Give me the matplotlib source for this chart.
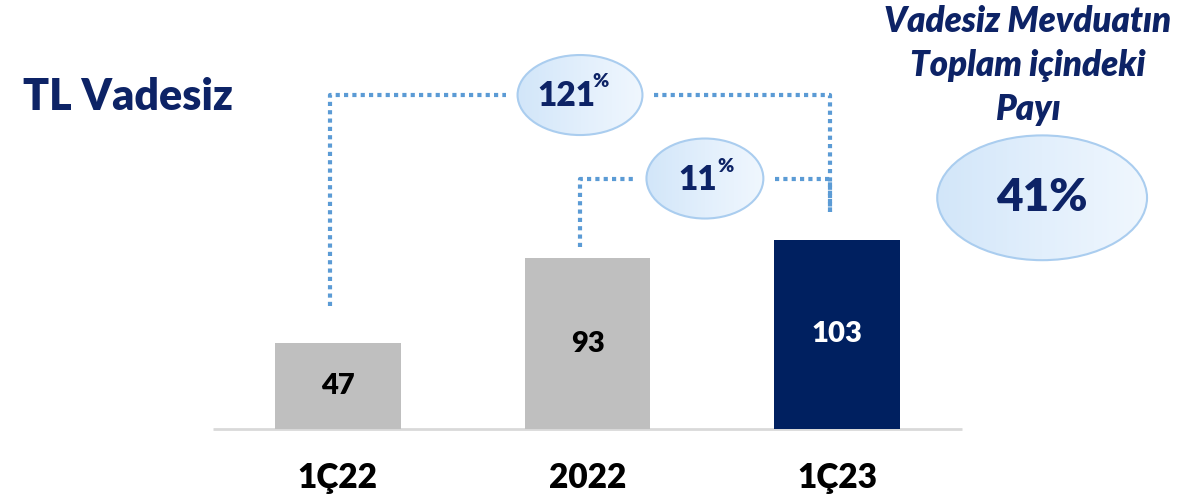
import numpy as np
import matplotlib.pyplot as plt
from matplotlib.patches import Ellipse
from matplotlib.colors import LinearSegmentedColormap

categories = ["1Ç22", "2022", "1Ç23"]
values = [47, 93, 103]
bar_colors = ["#bfbfbf", "#bfbfbf", "#002060"]
value_colors = ["#000000", "#000000", "#ffffff"]

# growth bubbles: (from bar, to bar, label)
growth = [(0, 2, "121"), (1, 2, "11")]
share_label = "41%"
side_title = ["Vadesiz Mevduatın", "Toplam içindeki", "Payı"]

NAVY = "#0d2366"
DOT = "#5b9bd5"

plt.rcParams['font.family'] = ['Lato', 'DejaVu Sans']

W, H = 1193, 501
PX_X, PX_Y = 250, 1.835   # pixels per unit
fig = plt.figure(figsize=(W / 100, H / 100), dpi=100)
ax = fig.add_axes([0, 0, 1, 1])

x = np.arange(len(values))
ax.bar(x, values, width=0.504, color=bar_colors, zorder=2)
ax.plot([-0.5, 2.5], [0, 0], color="#d9d9d9", lw=2, zorder=1, solid_capstyle="butt")

for i, v in enumerate(values):
    ax.text(i, v / 2, str(v), ha="center", va="center", fontsize=21,
            fontweight="heavy", color=value_colors[i], zorder=3)
    ax.annotate(categories[i], xy=(i, 0), xytext=(0, -35), textcoords="offset points",
                ha="center", va="center", fontsize=24, fontweight="heavy", color="black")

bubble_cmap = LinearSegmentedColormap.from_list("bubble", ["#d2e6f9", "#e2effc", "#f0f7fe"])
grad = np.linspace(0, 1, 256).reshape(1, -1)


def bubble(cx, cy, w, h):
    e = Ellipse((cx, cy), w, h, facecolor="none", edgecolor="#aacdef", lw=1.5, zorder=5)
    ax.add_patch(e)
    im = ax.imshow(grad, cmap=bubble_cmap, extent=[cx - w / 2, cx + w / 2, cy - h / 2, cy + h / 2],
                   aspect="auto", zorder=4, interpolation="bilinear")
    im.set_clip_path(e)


# dotted connectors with the growth bubble in the middle
levels = [182, 136.5]
gaps = [(20, 15), (6, 15)]
bubble_w = [0.5, 0.468]
pct_off = [(-10, -1, 19, 11), (-5, -1, 14, 10)]
dot_kw = dict(color=DOT, lw=3, linestyle=(0, (1, 1)), dash_capstyle="butt", zorder=3)
for k, (i, j, lab) in enumerate(growth):
    xi, xj = i - 0.03, j - 0.03
    y = levels[k]
    cx = (xi + xj) / 2
    half = bubble_w[k] / 2 + 0.045
    ax.plot([xi, xi, cx - half], [values[i] + gaps[k][0], y, y], **dot_kw)
    ax.plot([cx + half, xj, xj], [y, y, values[j] + gaps[k][1]], **dot_kw)
    bubble(cx, y, bubble_w[k], 43.6)
    ox, oy, px, py = pct_off[k]
    ax.annotate(lab, xy=(cx, y), xytext=(ox, oy), textcoords="offset points",
                ha="center", va="center", fontsize=24, fontweight="heavy",
                color=NAVY, zorder=6)
    ax.annotate("%", xy=(cx, y), xytext=(ox + px, oy + py), textcoords="offset points",
                ha="left", va="center", fontsize=14, fontweight="heavy",
                color=NAVY, zorder=6)

# share bubble on the right
bubble(2.82, 126, 0.84, 68)
ax.text(2.82, 126, share_label, ha="center", va="center", fontsize=33,
        fontweight="heavy", color=NAVY, zorder=6)

ax.set_xlim(-0.5 - 213 / PX_X, 2.5 + (W - 962) / PX_X)
ax.set_ylim(-72 / PX_Y, 429 / PX_Y)
ax.axis("off")

fig.text(23 / W, 1 - 97 / H, "TL Vadesiz", ha="left", va="center", fontsize=31,
         fontweight="heavy", color=NAVY)
for n, line in enumerate(side_title):
    fig.text(1028 / W, 1 - (21 + 44 * n) / H, line, ha="center", va="center",
             fontsize=25, fontweight="heavy", fontstyle="italic", color=NAVY)

fig.savefig("out.png", dpi=100)
